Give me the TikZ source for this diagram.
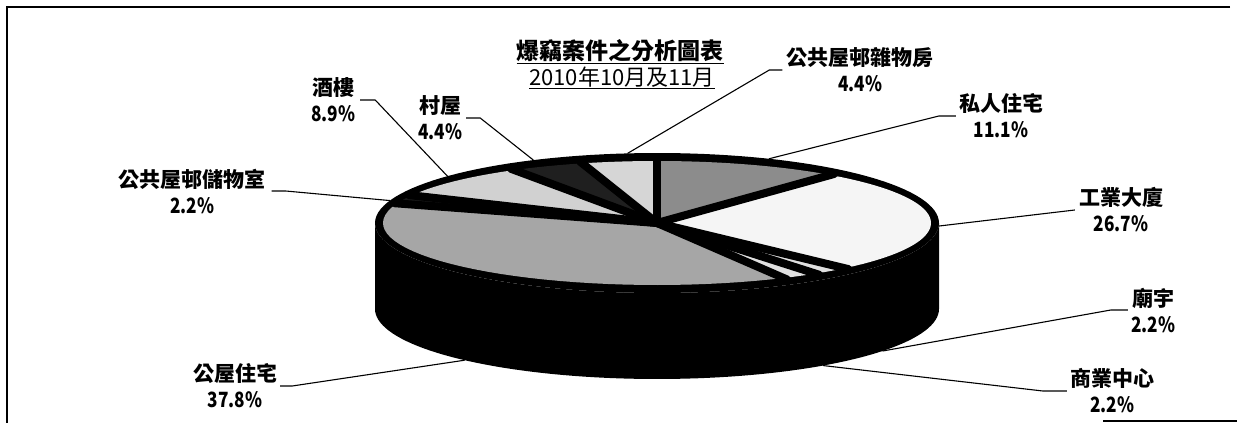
\documentclass[tikz,border=0pt]{standalone}
\usepackage{fontspec}
\newfontfamily\cjkfont{Noto Sans CJK TC}
\newfontfamily\numfont{Noto Sans CJK TC}[FakeStretch=0.82]
\begin{document}
\begin{tikzpicture}[x=1pt,y=-1pt,
  lbl/.style={font=\cjkfont\bfseries\fontsize{21}{26}\selectfont, align=center, inner sep=0pt},
  leader/.style={draw=black, line width=1.1pt},
  sep/.style={draw=black, line width=8pt, line cap=round}]
\def\pcx{657}\def\pcy{223}\def\pra{282}\def\prb{70}\def\pdep{86}
\newcommand\pct[1]{{\numfont\bfseries #1}}
\useasboundingbox (0,0) rectangle (1237,423);
\fill[white] (0,0) rectangle (1237,423);
% frame
\coordinate (ftl) at (7,7);
\coordinate (ftr) at (1230,7);
\coordinate (fbl) at (7,423);
\coordinate (fbr1) at (1103,421);
\coordinate (fbr2) at (1237,421);
\draw[line width=1.4pt] (ftr) -- (ftl) -- (fbl);
\draw[line width=1.4pt] (fbr1) -- (fbr2);
% side of pie
\fill[black] ({\pcx-\pra},{\pcy}) -- ({\pcx-\pra},{\pcy+\pdep})
  -- plot[domain=180:360, samples=80, variable=\t] ({\pcx+\pra*cos(\t)},{\pcy+\pdep-\prb*sin(\t)})
  -- ({\pcx+\pra},{\pcy})
  -- plot[domain=360:180, samples=80, variable=\t] ({\pcx+\pra*cos(\t)},{\pcy-\prb*sin(\t)}) -- cycle;
% top face
\fill[black] plot[domain=0:360, samples=140, variable=\t] ({\pcx+\pra*cos(\t)},{\pcy-\prb*sin(\t)}) -- cycle;
\newcommand\pieslice[3]{%
  \fill[#3] (\pcx,\pcy) -- plot[domain=#1:#2, samples=40, variable=\t] ({\pcx+(\pra-8)*cos(\t)},{\pcy-(\prb-8)*sin(\t)}) -- cycle;}
\pieslice{90}{50.04}{black!45}      % 私人住宅
\pieslice{50.04}{-46.08}{black!4}   % 工業大廈
\pieslice{-46.08}{-54.0}{black!12}  % 廟宇
\pieslice{-54.0}{-61.9}{black!12}   % 商業中心
\pieslice{-61.9}{-198.0}{black!35}  % 公屋住宅
\pieslice{162.0}{154.1}{black!90}   % 公共屋邨儲物室
\pieslice{154.1}{122.0}{black!18}   % 酒樓
\pieslice{122.0}{106.2}{black!88}   % 村屋
\pieslice{106.2}{90}{black!16}      % 公共屋邨雜物房
\foreach \a in {90,50.04,-46.08,-54.0,-61.9,162.0,154.1,122.0,106.2}
  \draw[sep] (\pcx,\pcy) -- ({\pcx+(\pra-6)*cos(\a)},{\pcy-(\prb-6)*sin(\a)});
% title
\node[font=\cjkfont\bfseries\fontsize{23}{26}\selectfont, inner sep=0pt] (t1) at (620,52) {\underline{爆竊案件之分析圖表}};
\node[font=\cjkfont\fontsize{22}{26}\selectfont, inner sep=0pt] (t2) at (622,78) {\underline{2010年10月及11月}};
% labels
\node[lbl] (lz) at (860,70) {公共屋邨雜物房\\\pct{4.4\%}};
\node[lbl] (ls) at (1001,116) {私人住宅\\\pct{11.1\%}};
\node[lbl] (li) at (1121,210) {工業大廈\\\pct{26.7\%}};
\node[lbl] (lt) at (1153,310) {廟宇\\\pct{2.2\%}};
\node[lbl] (lc) at (1112,391) {商業中心\\\pct{2.2\%}};
\node[lbl] (lg) at (235,386) {公屋住宅\\\pct{37.8\%}};
\node[lbl] (lst) at (192,191) {公共屋邨儲物室\\\pct{2.2\%}};
\node[lbl] (lj) at (333,100) {酒樓\\\pct{8.9\%}};
\node[lbl] (lv) at (440,118) {村屋\\\pct{4.4\%}};
% leader ends on pie
\coordinate (cz) at ({\pcx+\pra*cos(96)},{\pcy-\prb*sin(96)});
\coordinate (cs) at ({\pcx+\pra*cos(66.6)},{\pcy-\prb*sin(66.6)});
\coordinate (ci) at ({\pcx+\pra*cos(-2.5)},{\pcy-\prb*sin(-2.5)});
\coordinate (ct) at ({\pcx+\pra*cos(-36.9)},{\pcy+\pdep-\prb*sin(-36.9)});
\coordinate (cc) at ({\pcx+\pra*cos(-53.9)},{\pcy+\pdep-\prb*sin(-53.9)});
\coordinate (cg) at ({\pcx+\pra*cos(-133)},{\pcy+\pdep-\prb*sin(-133)});
\coordinate (cst) at ({\pcx+\pra*cos(161.3)},{\pcy-\prb*sin(161.3)});
\coordinate (cj) at ({\pcx+\pra*cos(138)},{\pcy-\prb*sin(138)});
\coordinate (cv) at ({\pcx+\pra*cos(116)},{\pcy-\prb*sin(116)});
% leaders
\draw[leader] ([xshift=-4pt]lz.west) -- ++(-13,0) -- (cz);
\draw[leader] ([xshift=-3pt]ls.west) -- ++(-17,0) -- (cs);
\draw[leader] ([xshift=-4pt]li.west) -- (ci);
\draw[leader] ([xshift=-3pt]lt.west) -- ++(-17,0) -- (ct);
\draw[leader] ([xshift=-3pt]lc.west) -- ++(-24,0) -- (cc);
\draw[leader] ([xshift=3pt]lg.east) -- ++(12,0) -- (cg);
\draw[leader] ([xshift=6pt]lst.east) -- ++(14,0) -- (cst);
\draw[leader] ([xshift=5pt]lj.east) -- ++(15,0) -- (cj);
\draw[leader] ([xshift=4pt]lv.east) -- ++(14,0) -- (cv);
\end{tikzpicture}
\end{document}
